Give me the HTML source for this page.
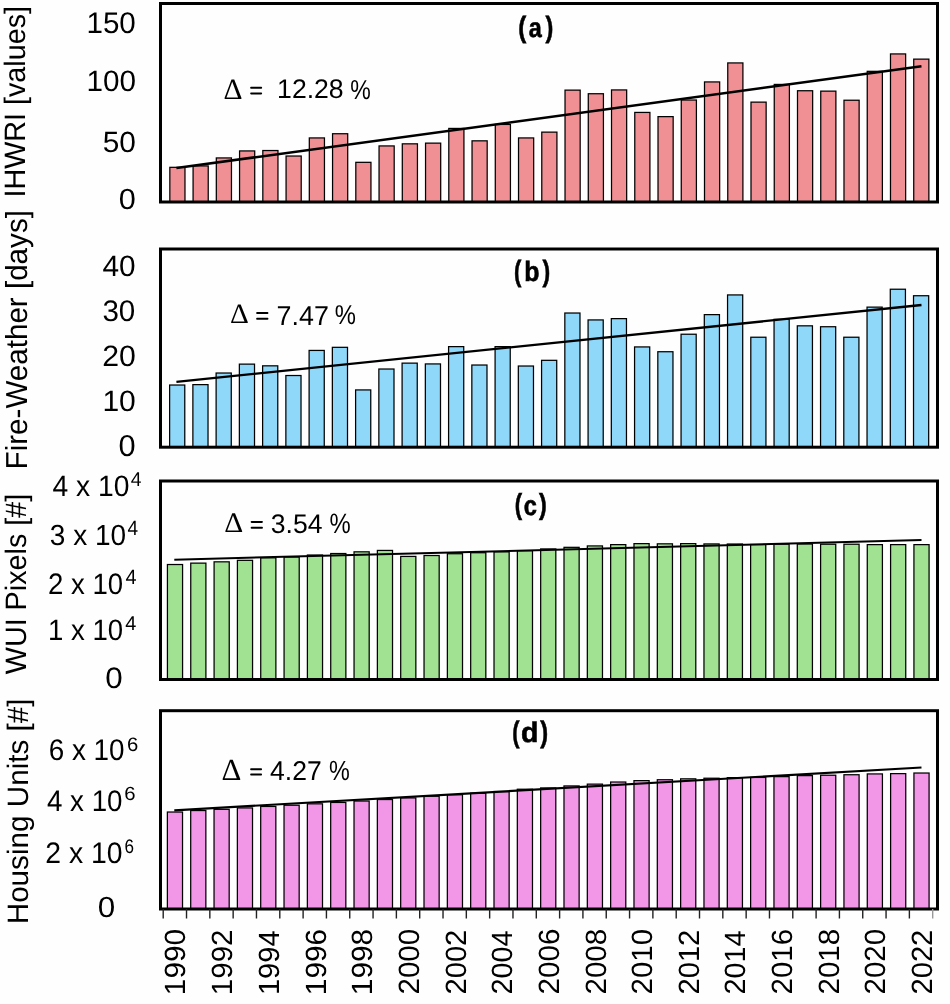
<!DOCTYPE html><html><head><meta charset="utf-8"><style>html,body{margin:0;padding:0;background:#fefefe;overflow:hidden}
svg{display:block}
text{fill:#000;text-rendering:geometricPrecision}
.S{font-family:"Liberation Sans",sans-serif}
.Sb{font-family:"Liberation Sans",sans-serif;font-weight:bold;stroke:#000;stroke-width:0.6}
.R{font-family:"Liberation Serif",serif}
</style></head><body><svg width="950" height="1004" viewBox="0 0 950 1004"><rect x="169.20" y="166.70" width="16.40" height="34.80" fill="#000"/>
<rect x="170.45" y="167.95" width="13.90" height="33.55" fill="#F19094"/>
<rect x="192.45" y="165.30" width="16.40" height="36.20" fill="#000"/>
<rect x="193.70" y="166.55" width="13.90" height="34.95" fill="#F19094"/>
<rect x="215.69" y="157.30" width="16.40" height="44.20" fill="#000"/>
<rect x="216.94" y="158.55" width="13.90" height="42.95" fill="#F19094"/>
<rect x="238.94" y="150.30" width="16.40" height="51.20" fill="#000"/>
<rect x="240.19" y="151.55" width="13.90" height="49.95" fill="#F19094"/>
<rect x="262.19" y="149.90" width="16.40" height="51.60" fill="#000"/>
<rect x="263.44" y="151.15" width="13.90" height="50.35" fill="#F19094"/>
<rect x="285.44" y="155.40" width="16.40" height="46.10" fill="#000"/>
<rect x="286.69" y="156.65" width="13.90" height="44.85" fill="#F19094"/>
<rect x="308.68" y="137.30" width="16.40" height="64.20" fill="#000"/>
<rect x="309.93" y="138.55" width="13.90" height="62.95" fill="#F19094"/>
<rect x="331.93" y="133.10" width="16.40" height="68.40" fill="#000"/>
<rect x="333.18" y="134.35" width="13.90" height="67.15" fill="#F19094"/>
<rect x="355.18" y="161.70" width="16.40" height="39.80" fill="#000"/>
<rect x="356.43" y="162.95" width="13.90" height="38.55" fill="#F19094"/>
<rect x="378.42" y="145.30" width="16.40" height="56.20" fill="#000"/>
<rect x="379.67" y="146.55" width="13.90" height="54.95" fill="#F19094"/>
<rect x="401.67" y="143.20" width="16.40" height="58.30" fill="#000"/>
<rect x="402.92" y="144.45" width="13.90" height="57.05" fill="#F19094"/>
<rect x="424.92" y="142.50" width="16.40" height="59.00" fill="#000"/>
<rect x="426.17" y="143.75" width="13.90" height="57.75" fill="#F19094"/>
<rect x="448.16" y="127.80" width="16.40" height="73.70" fill="#000"/>
<rect x="449.41" y="129.05" width="13.90" height="72.45" fill="#F19094"/>
<rect x="471.41" y="140.20" width="16.40" height="61.30" fill="#000"/>
<rect x="472.66" y="141.45" width="13.90" height="60.05" fill="#F19094"/>
<rect x="494.66" y="123.80" width="16.40" height="77.70" fill="#000"/>
<rect x="495.91" y="125.05" width="13.90" height="76.45" fill="#F19094"/>
<rect x="517.90" y="137.30" width="16.40" height="64.20" fill="#000"/>
<rect x="519.15" y="138.55" width="13.90" height="62.95" fill="#F19094"/>
<rect x="541.15" y="131.50" width="16.40" height="70.00" fill="#000"/>
<rect x="542.40" y="132.75" width="13.90" height="68.75" fill="#F19094"/>
<rect x="564.40" y="89.50" width="16.40" height="112.00" fill="#000"/>
<rect x="565.65" y="90.75" width="13.90" height="110.75" fill="#F19094"/>
<rect x="587.65" y="93.10" width="16.40" height="108.40" fill="#000"/>
<rect x="588.90" y="94.35" width="13.90" height="107.15" fill="#F19094"/>
<rect x="610.89" y="89.30" width="16.40" height="112.20" fill="#000"/>
<rect x="612.14" y="90.55" width="13.90" height="110.95" fill="#F19094"/>
<rect x="634.14" y="111.80" width="16.40" height="89.70" fill="#000"/>
<rect x="635.39" y="113.05" width="13.90" height="88.45" fill="#F19094"/>
<rect x="657.39" y="116.00" width="16.40" height="85.50" fill="#000"/>
<rect x="658.64" y="117.25" width="13.90" height="84.25" fill="#F19094"/>
<rect x="680.63" y="99.40" width="16.40" height="102.10" fill="#000"/>
<rect x="681.88" y="100.65" width="13.90" height="100.85" fill="#F19094"/>
<rect x="703.88" y="81.30" width="16.40" height="120.20" fill="#000"/>
<rect x="705.13" y="82.55" width="13.90" height="118.95" fill="#F19094"/>
<rect x="727.13" y="62.30" width="16.40" height="139.20" fill="#000"/>
<rect x="728.38" y="63.55" width="13.90" height="137.95" fill="#F19094"/>
<rect x="750.37" y="101.50" width="16.40" height="100.00" fill="#000"/>
<rect x="751.62" y="102.75" width="13.90" height="98.75" fill="#F19094"/>
<rect x="773.62" y="83.80" width="16.40" height="117.70" fill="#000"/>
<rect x="774.87" y="85.05" width="13.90" height="116.45" fill="#F19094"/>
<rect x="796.87" y="90.10" width="16.40" height="111.40" fill="#000"/>
<rect x="798.12" y="91.35" width="13.90" height="110.15" fill="#F19094"/>
<rect x="820.12" y="90.50" width="16.40" height="111.00" fill="#000"/>
<rect x="821.37" y="91.75" width="13.90" height="109.75" fill="#F19094"/>
<rect x="843.36" y="99.60" width="16.40" height="101.90" fill="#000"/>
<rect x="844.61" y="100.85" width="13.90" height="100.65" fill="#F19094"/>
<rect x="866.61" y="70.70" width="16.40" height="130.80" fill="#000"/>
<rect x="867.86" y="71.95" width="13.90" height="129.55" fill="#F19094"/>
<rect x="889.86" y="53.30" width="16.40" height="148.20" fill="#000"/>
<rect x="891.11" y="54.55" width="13.90" height="146.95" fill="#F19094"/>
<rect x="913.10" y="58.50" width="16.40" height="143.00" fill="#000"/>
<rect x="914.35" y="59.75" width="13.90" height="141.75" fill="#F19094"/>
<line x1="176.40" y1="168.00" x2="921.50" y2="66.30" stroke="#000" stroke-width="2.50"/>
<rect x="160.50" y="3.50" width="777.00" height="198.50" fill="none" stroke="#000" stroke-width="3"/>
<rect x="169.00" y="384.40" width="16.40" height="62.20" fill="#000"/>
<rect x="170.25" y="385.65" width="13.90" height="60.95" fill="#8FD8FA"/>
<rect x="192.25" y="384.00" width="16.40" height="62.60" fill="#000"/>
<rect x="193.50" y="385.25" width="13.90" height="61.35" fill="#8FD8FA"/>
<rect x="215.49" y="372.40" width="16.40" height="74.20" fill="#000"/>
<rect x="216.74" y="373.65" width="13.90" height="72.95" fill="#8FD8FA"/>
<rect x="238.74" y="363.50" width="16.40" height="83.10" fill="#000"/>
<rect x="239.99" y="364.75" width="13.90" height="81.85" fill="#8FD8FA"/>
<rect x="261.99" y="365.20" width="16.40" height="81.40" fill="#000"/>
<rect x="263.24" y="366.45" width="13.90" height="80.15" fill="#8FD8FA"/>
<rect x="285.24" y="374.90" width="16.40" height="71.70" fill="#000"/>
<rect x="286.49" y="376.15" width="13.90" height="70.45" fill="#8FD8FA"/>
<rect x="308.48" y="349.80" width="16.40" height="96.80" fill="#000"/>
<rect x="309.73" y="351.05" width="13.90" height="95.55" fill="#8FD8FA"/>
<rect x="331.73" y="346.70" width="16.40" height="99.90" fill="#000"/>
<rect x="332.98" y="347.95" width="13.90" height="98.65" fill="#8FD8FA"/>
<rect x="354.98" y="389.30" width="16.40" height="57.30" fill="#000"/>
<rect x="356.23" y="390.55" width="13.90" height="56.05" fill="#8FD8FA"/>
<rect x="378.22" y="368.40" width="16.40" height="78.20" fill="#000"/>
<rect x="379.47" y="369.65" width="13.90" height="76.95" fill="#8FD8FA"/>
<rect x="401.47" y="362.50" width="16.40" height="84.10" fill="#000"/>
<rect x="402.72" y="363.75" width="13.90" height="82.85" fill="#8FD8FA"/>
<rect x="424.72" y="363.30" width="16.40" height="83.30" fill="#000"/>
<rect x="425.97" y="364.55" width="13.90" height="82.05" fill="#8FD8FA"/>
<rect x="447.96" y="346.00" width="16.40" height="100.60" fill="#000"/>
<rect x="449.21" y="347.25" width="13.90" height="99.35" fill="#8FD8FA"/>
<rect x="471.21" y="364.40" width="16.40" height="82.20" fill="#000"/>
<rect x="472.46" y="365.65" width="13.90" height="80.95" fill="#8FD8FA"/>
<rect x="494.46" y="346.00" width="16.40" height="100.60" fill="#000"/>
<rect x="495.71" y="347.25" width="13.90" height="99.35" fill="#8FD8FA"/>
<rect x="517.70" y="365.40" width="16.40" height="81.20" fill="#000"/>
<rect x="518.95" y="366.65" width="13.90" height="79.95" fill="#8FD8FA"/>
<rect x="540.95" y="359.70" width="16.40" height="86.90" fill="#000"/>
<rect x="542.20" y="360.95" width="13.90" height="85.65" fill="#8FD8FA"/>
<rect x="564.20" y="312.40" width="16.40" height="134.20" fill="#000"/>
<rect x="565.45" y="313.65" width="13.90" height="132.95" fill="#8FD8FA"/>
<rect x="587.45" y="319.30" width="16.40" height="127.30" fill="#000"/>
<rect x="588.70" y="320.55" width="13.90" height="126.05" fill="#8FD8FA"/>
<rect x="610.69" y="318.00" width="16.40" height="128.60" fill="#000"/>
<rect x="611.94" y="319.25" width="13.90" height="127.35" fill="#8FD8FA"/>
<rect x="633.94" y="346.30" width="16.40" height="100.30" fill="#000"/>
<rect x="635.19" y="347.55" width="13.90" height="99.05" fill="#8FD8FA"/>
<rect x="657.19" y="351.10" width="16.40" height="95.50" fill="#000"/>
<rect x="658.44" y="352.35" width="13.90" height="94.25" fill="#8FD8FA"/>
<rect x="680.43" y="333.60" width="16.40" height="113.00" fill="#000"/>
<rect x="681.68" y="334.85" width="13.90" height="111.75" fill="#8FD8FA"/>
<rect x="703.68" y="314.00" width="16.40" height="132.60" fill="#000"/>
<rect x="704.93" y="315.25" width="13.90" height="131.35" fill="#8FD8FA"/>
<rect x="726.93" y="294.30" width="16.40" height="152.30" fill="#000"/>
<rect x="728.18" y="295.55" width="13.90" height="151.05" fill="#8FD8FA"/>
<rect x="750.17" y="336.60" width="16.40" height="110.00" fill="#000"/>
<rect x="751.42" y="337.85" width="13.90" height="108.75" fill="#8FD8FA"/>
<rect x="773.42" y="318.70" width="16.40" height="127.90" fill="#000"/>
<rect x="774.67" y="319.95" width="13.90" height="126.65" fill="#8FD8FA"/>
<rect x="796.67" y="325.20" width="16.40" height="121.40" fill="#000"/>
<rect x="797.92" y="326.45" width="13.90" height="120.15" fill="#8FD8FA"/>
<rect x="819.92" y="326.10" width="16.40" height="120.50" fill="#000"/>
<rect x="821.17" y="327.35" width="13.90" height="119.25" fill="#8FD8FA"/>
<rect x="843.16" y="336.60" width="16.40" height="110.00" fill="#000"/>
<rect x="844.41" y="337.85" width="13.90" height="108.75" fill="#8FD8FA"/>
<rect x="866.41" y="306.50" width="16.40" height="140.10" fill="#000"/>
<rect x="867.66" y="307.75" width="13.90" height="138.85" fill="#8FD8FA"/>
<rect x="889.66" y="288.60" width="16.40" height="158.00" fill="#000"/>
<rect x="890.91" y="289.85" width="13.90" height="156.75" fill="#8FD8FA"/>
<rect x="912.90" y="295.10" width="16.40" height="151.50" fill="#000"/>
<rect x="914.15" y="296.35" width="13.90" height="150.25" fill="#8FD8FA"/>
<line x1="176.40" y1="381.80" x2="921.50" y2="305.00" stroke="#000" stroke-width="2.30"/>
<rect x="160.50" y="249.00" width="777.00" height="198.20" fill="none" stroke="#000" stroke-width="3"/>
<rect x="166.80" y="563.90" width="16.40" height="115.30" fill="#000"/>
<rect x="168.05" y="565.15" width="13.90" height="114.05" fill="#A0E292"/>
<rect x="190.13" y="562.50" width="16.40" height="116.70" fill="#000"/>
<rect x="191.38" y="563.75" width="13.90" height="115.45" fill="#A0E292"/>
<rect x="213.46" y="561.20" width="16.40" height="118.00" fill="#000"/>
<rect x="214.71" y="562.45" width="13.90" height="116.75" fill="#A0E292"/>
<rect x="236.78" y="559.70" width="16.40" height="119.50" fill="#000"/>
<rect x="238.03" y="560.95" width="13.90" height="118.25" fill="#A0E292"/>
<rect x="260.11" y="557.20" width="16.40" height="122.00" fill="#000"/>
<rect x="261.36" y="558.45" width="13.90" height="120.75" fill="#A0E292"/>
<rect x="283.44" y="556.40" width="16.40" height="122.80" fill="#000"/>
<rect x="284.69" y="557.65" width="13.90" height="121.55" fill="#A0E292"/>
<rect x="306.77" y="554.40" width="16.40" height="124.80" fill="#000"/>
<rect x="308.02" y="555.65" width="13.90" height="123.55" fill="#A0E292"/>
<rect x="330.10" y="552.90" width="16.40" height="126.30" fill="#000"/>
<rect x="331.35" y="554.15" width="13.90" height="125.05" fill="#A0E292"/>
<rect x="353.42" y="551.20" width="16.40" height="128.00" fill="#000"/>
<rect x="354.67" y="552.45" width="13.90" height="126.75" fill="#A0E292"/>
<rect x="376.75" y="549.80" width="16.40" height="129.40" fill="#000"/>
<rect x="378.00" y="551.05" width="13.90" height="128.15" fill="#A0E292"/>
<rect x="400.08" y="555.80" width="16.40" height="123.40" fill="#000"/>
<rect x="401.33" y="557.05" width="13.90" height="122.15" fill="#A0E292"/>
<rect x="423.41" y="554.90" width="16.40" height="124.30" fill="#000"/>
<rect x="424.66" y="556.15" width="13.90" height="123.05" fill="#A0E292"/>
<rect x="446.74" y="553.10" width="16.40" height="126.10" fill="#000"/>
<rect x="447.99" y="554.35" width="13.90" height="124.85" fill="#A0E292"/>
<rect x="470.06" y="552.10" width="16.40" height="127.10" fill="#000"/>
<rect x="471.31" y="553.35" width="13.90" height="125.85" fill="#A0E292"/>
<rect x="493.39" y="551.20" width="16.40" height="128.00" fill="#000"/>
<rect x="494.64" y="552.45" width="13.90" height="126.75" fill="#A0E292"/>
<rect x="516.72" y="550.00" width="16.40" height="129.20" fill="#000"/>
<rect x="517.97" y="551.25" width="13.90" height="127.95" fill="#A0E292"/>
<rect x="540.05" y="548.30" width="16.40" height="130.90" fill="#000"/>
<rect x="541.30" y="549.55" width="13.90" height="129.65" fill="#A0E292"/>
<rect x="563.38" y="546.70" width="16.40" height="132.50" fill="#000"/>
<rect x="564.63" y="547.95" width="13.90" height="131.25" fill="#A0E292"/>
<rect x="586.70" y="545.30" width="16.40" height="133.90" fill="#000"/>
<rect x="587.95" y="546.55" width="13.90" height="132.65" fill="#A0E292"/>
<rect x="610.03" y="544.00" width="16.40" height="135.20" fill="#000"/>
<rect x="611.28" y="545.25" width="13.90" height="133.95" fill="#A0E292"/>
<rect x="633.36" y="543.00" width="16.40" height="136.20" fill="#000"/>
<rect x="634.61" y="544.25" width="13.90" height="134.95" fill="#A0E292"/>
<rect x="656.69" y="543.20" width="16.40" height="136.00" fill="#000"/>
<rect x="657.94" y="544.45" width="13.90" height="134.75" fill="#A0E292"/>
<rect x="680.02" y="543.00" width="16.40" height="136.20" fill="#000"/>
<rect x="681.27" y="544.25" width="13.90" height="134.95" fill="#A0E292"/>
<rect x="703.34" y="543.30" width="16.40" height="135.90" fill="#000"/>
<rect x="704.59" y="544.55" width="13.90" height="134.65" fill="#A0E292"/>
<rect x="726.67" y="543.40" width="16.40" height="135.80" fill="#000"/>
<rect x="727.92" y="544.65" width="13.90" height="134.55" fill="#A0E292"/>
<rect x="750.00" y="543.90" width="16.40" height="135.30" fill="#000"/>
<rect x="751.25" y="545.15" width="13.90" height="134.05" fill="#A0E292"/>
<rect x="773.33" y="543.50" width="16.40" height="135.70" fill="#000"/>
<rect x="774.58" y="544.75" width="13.90" height="134.45" fill="#A0E292"/>
<rect x="796.66" y="543.40" width="16.40" height="135.80" fill="#000"/>
<rect x="797.91" y="544.65" width="13.90" height="134.55" fill="#A0E292"/>
<rect x="819.98" y="543.60" width="16.40" height="135.60" fill="#000"/>
<rect x="821.23" y="544.85" width="13.90" height="134.35" fill="#A0E292"/>
<rect x="843.31" y="543.60" width="16.40" height="135.60" fill="#000"/>
<rect x="844.56" y="544.85" width="13.90" height="134.35" fill="#A0E292"/>
<rect x="866.64" y="544.00" width="16.40" height="135.20" fill="#000"/>
<rect x="867.89" y="545.25" width="13.90" height="133.95" fill="#A0E292"/>
<rect x="889.97" y="544.00" width="16.40" height="135.20" fill="#000"/>
<rect x="891.22" y="545.25" width="13.90" height="133.95" fill="#A0E292"/>
<rect x="913.30" y="544.00" width="16.40" height="135.20" fill="#000"/>
<rect x="914.55" y="545.25" width="13.90" height="133.95" fill="#A0E292"/>
<line x1="174.30" y1="559.70" x2="921.50" y2="540.10" stroke="#000" stroke-width="2.00"/>
<rect x="160.50" y="481.00" width="777.00" height="198.50" fill="none" stroke="#000" stroke-width="3"/>
<rect x="166.75" y="811.40" width="16.40" height="97.50" fill="#000"/>
<rect x="168.00" y="812.65" width="13.90" height="96.25" fill="#F296E8"/>
<rect x="190.08" y="809.90" width="16.40" height="99.00" fill="#000"/>
<rect x="191.33" y="811.15" width="13.90" height="97.75" fill="#F296E8"/>
<rect x="213.41" y="808.70" width="16.40" height="100.20" fill="#000"/>
<rect x="214.66" y="809.95" width="13.90" height="98.95" fill="#F296E8"/>
<rect x="236.74" y="807.30" width="16.40" height="101.60" fill="#000"/>
<rect x="237.99" y="808.55" width="13.90" height="100.35" fill="#F296E8"/>
<rect x="260.07" y="805.80" width="16.40" height="103.10" fill="#000"/>
<rect x="261.32" y="807.05" width="13.90" height="101.85" fill="#F296E8"/>
<rect x="283.40" y="804.60" width="16.40" height="104.30" fill="#000"/>
<rect x="284.65" y="805.85" width="13.90" height="103.05" fill="#F296E8"/>
<rect x="306.73" y="803.20" width="16.40" height="105.70" fill="#000"/>
<rect x="307.98" y="804.45" width="13.90" height="104.45" fill="#F296E8"/>
<rect x="330.06" y="801.80" width="16.40" height="107.10" fill="#000"/>
<rect x="331.31" y="803.05" width="13.90" height="105.85" fill="#F296E8"/>
<rect x="353.39" y="800.40" width="16.40" height="108.50" fill="#000"/>
<rect x="354.64" y="801.65" width="13.90" height="107.25" fill="#F296E8"/>
<rect x="376.72" y="798.90" width="16.40" height="110.00" fill="#000"/>
<rect x="377.97" y="800.15" width="13.90" height="108.75" fill="#F296E8"/>
<rect x="400.05" y="797.30" width="16.40" height="111.60" fill="#000"/>
<rect x="401.30" y="798.55" width="13.90" height="110.35" fill="#F296E8"/>
<rect x="423.38" y="795.60" width="16.40" height="113.30" fill="#000"/>
<rect x="424.63" y="796.85" width="13.90" height="112.05" fill="#F296E8"/>
<rect x="446.71" y="794.10" width="16.40" height="114.80" fill="#000"/>
<rect x="447.96" y="795.35" width="13.90" height="113.55" fill="#F296E8"/>
<rect x="470.04" y="792.60" width="16.40" height="116.30" fill="#000"/>
<rect x="471.29" y="793.85" width="13.90" height="115.05" fill="#F296E8"/>
<rect x="493.37" y="790.90" width="16.40" height="118.00" fill="#000"/>
<rect x="494.62" y="792.15" width="13.90" height="116.75" fill="#F296E8"/>
<rect x="516.70" y="788.60" width="16.40" height="120.30" fill="#000"/>
<rect x="517.95" y="789.85" width="13.90" height="119.05" fill="#F296E8"/>
<rect x="540.03" y="787.30" width="16.40" height="121.60" fill="#000"/>
<rect x="541.28" y="788.55" width="13.90" height="120.35" fill="#F296E8"/>
<rect x="563.36" y="785.30" width="16.40" height="123.60" fill="#000"/>
<rect x="564.61" y="786.55" width="13.90" height="122.35" fill="#F296E8"/>
<rect x="586.69" y="783.50" width="16.40" height="125.40" fill="#000"/>
<rect x="587.94" y="784.75" width="13.90" height="124.15" fill="#F296E8"/>
<rect x="610.02" y="781.40" width="16.40" height="127.50" fill="#000"/>
<rect x="611.27" y="782.65" width="13.90" height="126.25" fill="#F296E8"/>
<rect x="633.35" y="780.00" width="16.40" height="128.90" fill="#000"/>
<rect x="634.60" y="781.25" width="13.90" height="127.65" fill="#F296E8"/>
<rect x="656.68" y="779.10" width="16.40" height="129.80" fill="#000"/>
<rect x="657.93" y="780.35" width="13.90" height="128.55" fill="#F296E8"/>
<rect x="680.01" y="778.20" width="16.40" height="130.70" fill="#000"/>
<rect x="681.26" y="779.45" width="13.90" height="129.45" fill="#F296E8"/>
<rect x="703.34" y="777.60" width="16.40" height="131.30" fill="#000"/>
<rect x="704.59" y="778.85" width="13.90" height="130.05" fill="#F296E8"/>
<rect x="726.67" y="777.00" width="16.40" height="131.90" fill="#000"/>
<rect x="727.92" y="778.25" width="13.90" height="130.65" fill="#F296E8"/>
<rect x="750.00" y="776.80" width="16.40" height="132.10" fill="#000"/>
<rect x="751.25" y="778.05" width="13.90" height="130.85" fill="#F296E8"/>
<rect x="773.33" y="776.00" width="16.40" height="132.90" fill="#000"/>
<rect x="774.58" y="777.25" width="13.90" height="131.65" fill="#F296E8"/>
<rect x="796.66" y="775.00" width="16.40" height="133.90" fill="#000"/>
<rect x="797.91" y="776.25" width="13.90" height="132.65" fill="#F296E8"/>
<rect x="819.99" y="774.60" width="16.40" height="134.30" fill="#000"/>
<rect x="821.24" y="775.85" width="13.90" height="133.05" fill="#F296E8"/>
<rect x="843.32" y="774.10" width="16.40" height="134.80" fill="#000"/>
<rect x="844.57" y="775.35" width="13.90" height="133.55" fill="#F296E8"/>
<rect x="866.65" y="773.30" width="16.40" height="135.60" fill="#000"/>
<rect x="867.90" y="774.55" width="13.90" height="134.35" fill="#F296E8"/>
<rect x="889.98" y="773.00" width="16.40" height="135.90" fill="#000"/>
<rect x="891.23" y="774.25" width="13.90" height="134.65" fill="#F296E8"/>
<rect x="913.31" y="772.40" width="16.40" height="136.50" fill="#000"/>
<rect x="914.56" y="773.65" width="13.90" height="135.25" fill="#F296E8"/>
<line x1="174.30" y1="810.30" x2="921.50" y2="767.50" stroke="#000" stroke-width="2.20"/>
<rect x="160.50" y="710.70" width="777.00" height="198.30" fill="none" stroke="#000" stroke-width="3"/>
<rect x="250.20" y="86.70" width="11.90" height="2" rx="0.8" fill="#000"/>
<rect x="250.20" y="92.40" width="11.90" height="2" rx="0.8" fill="#000"/>
<rect x="256.20" y="312.10" width="12.20" height="2" rx="0.8" fill="#000"/>
<rect x="256.20" y="317.70" width="12.20" height="2" rx="0.8" fill="#000"/>
<rect x="250.70" y="520.90" width="12.20" height="2" rx="0.8" fill="#000"/>
<rect x="250.70" y="526.70" width="12.20" height="2" rx="0.8" fill="#000"/>
<rect x="250.20" y="768.20" width="11.80" height="2" rx="0.8" fill="#000"/>
<rect x="250.20" y="773.60" width="11.80" height="2" rx="0.8" fill="#000"/>
<rect x="162.50" y="909" width="1.4" height="9.5" fill="#222"/>
<rect x="185.82" y="909" width="1.4" height="9.5" fill="#222"/>
<rect x="209.14" y="909" width="1.4" height="9.5" fill="#222"/>
<rect x="232.45" y="909" width="1.4" height="9.5" fill="#222"/>
<rect x="255.77" y="909" width="1.4" height="9.5" fill="#222"/>
<rect x="279.09" y="909" width="1.4" height="9.5" fill="#222"/>
<rect x="302.41" y="909" width="1.4" height="9.5" fill="#222"/>
<rect x="325.73" y="909" width="1.4" height="9.5" fill="#222"/>
<rect x="349.04" y="909" width="1.4" height="9.5" fill="#222"/>
<rect x="372.36" y="909" width="1.4" height="9.5" fill="#222"/>
<rect x="395.68" y="909" width="1.4" height="9.5" fill="#222"/>
<rect x="419.00" y="909" width="1.4" height="9.5" fill="#222"/>
<rect x="442.32" y="909" width="1.4" height="9.5" fill="#222"/>
<rect x="465.63" y="909" width="1.4" height="9.5" fill="#222"/>
<rect x="488.95" y="909" width="1.4" height="9.5" fill="#222"/>
<rect x="512.27" y="909" width="1.4" height="9.5" fill="#222"/>
<rect x="535.59" y="909" width="1.4" height="9.5" fill="#222"/>
<rect x="558.91" y="909" width="1.4" height="9.5" fill="#222"/>
<rect x="582.22" y="909" width="1.4" height="9.5" fill="#222"/>
<rect x="605.54" y="909" width="1.4" height="9.5" fill="#222"/>
<rect x="628.86" y="909" width="1.4" height="9.5" fill="#222"/>
<rect x="652.18" y="909" width="1.4" height="9.5" fill="#222"/>
<rect x="675.50" y="909" width="1.4" height="9.5" fill="#222"/>
<rect x="698.81" y="909" width="1.4" height="9.5" fill="#222"/>
<rect x="722.13" y="909" width="1.4" height="9.5" fill="#222"/>
<rect x="745.45" y="909" width="1.4" height="9.5" fill="#222"/>
<rect x="768.77" y="909" width="1.4" height="9.5" fill="#222"/>
<rect x="792.09" y="909" width="1.4" height="9.5" fill="#222"/>
<rect x="815.40" y="909" width="1.4" height="9.5" fill="#222"/>
<rect x="838.72" y="909" width="1.4" height="9.5" fill="#222"/>
<rect x="862.04" y="909" width="1.4" height="9.5" fill="#222"/>
<rect x="885.36" y="909" width="1.4" height="9.5" fill="#222"/>
<rect x="908.68" y="909" width="1.4" height="9.5" fill="#222"/>
<rect x="931.99" y="909" width="1.4" height="9.5" fill="#999"/>
<defs><filter id="gs" x="0" y="0" width="950" height="1004" filterUnits="userSpaceOnUse"><feColorMatrix type="saturate" values="0"/></filter></defs><g filter="url(#gs)"><text class="S" transform="translate(24.887,197.587) rotate(-90) scale(0.9743,1)" font-size="29.513">IHWRI [values]</text>
<text class="S" transform="translate(27.070,469.437) rotate(-90) scale(0.9744,1)" font-size="30.380">Fire-Weather [days]</text>
<text class="S" transform="translate(26.379,674.234) rotate(-90) scale(0.9742,1)" font-size="29.513">WUI Pixels [#]</text>
<text class="S" transform="translate(27.888,924.284) rotate(-90) scale(1.0051,1)" font-size="29.513">Housing Units [#]</text>
<text class="S" transform="translate(86.467,33.097) scale(0.9899,1)" font-size="29.886">150</text>
<text class="S" transform="translate(86.387,91.400) scale(1.0049,1)" font-size="29.520">100</text>
<text class="S" transform="translate(102.717,151.720) scale(1.0189,1)" font-size="29.304">50</text>
<text class="S" transform="translate(118.856,208.558) scale(1.0549,1)" font-size="29.042">0</text>
<text class="S" transform="translate(102.423,276.353) scale(1.0107,1)" font-size="29.488">40</text>
<text class="S" transform="translate(102.402,320.910) scale(0.9937,1)" font-size="29.788">30</text>
<text class="S" transform="translate(102.162,365.652) scale(1.0267,1)" font-size="29.460">20</text>
<text class="S" transform="translate(102.397,411.007) scale(1.0226,1)" font-size="29.369">10</text>
<text class="S" transform="translate(118.540,455.919) scale(1.0219,1)" font-size="30.147">0</text>
<text class="S" transform="translate(52.545,495.655) scale(0.9578,1)" font-size="29.490">4 x 10</text>
<text class="S" transform="translate(130.629,485.557) scale(0.9570,1)" font-size="20.188">4</text>
<text class="S" transform="translate(49.819,544.531) scale(0.9663,1)" font-size="29.030">3 x 10</text>
<text class="S" transform="translate(127.398,535.246) scale(0.9134,1)" font-size="20.854">4</text>
<text class="S" transform="translate(48.068,593.769) scale(0.9331,1)" font-size="29.576">2 x 10</text>
<text class="S" transform="translate(125.439,583.901) scale(0.9622,1)" font-size="20.611">4</text>
<text class="S" transform="translate(48.098,639.745) scale(0.9349,1)" font-size="29.494">1 x 10</text>
<text class="S" transform="translate(125.270,629.949) scale(0.9992,1)" font-size="19.903">4</text>
<text class="S" transform="translate(105.148,688.066) scale(1.0556,1)" font-size="29.710">0</text>
<text class="S" transform="translate(48.686,760.472) scale(0.9303,1)" font-size="29.916">6 x 10</text>
<text class="S" transform="translate(126.948,750.736) scale(1.0414,1)" font-size="19.510">6</text>
<text class="S" transform="translate(46.965,810.568) scale(0.9328,1)" font-size="29.724">4 x 10</text>
<text class="S" transform="translate(124.134,800.325) scale(1.0715,1)" font-size="19.027">6</text>
<text class="S" transform="translate(45.337,862.718) scale(0.9556,1)" font-size="29.678">2 x 10</text>
<text class="S" transform="translate(124.590,853.140) scale(0.8759,1)" font-size="19.544">6</text>
<text class="S" transform="translate(97.822,916.897) scale(1.0815,1)" font-size="29.069">0</text>
<text class="Sb" transform="translate(518.315,37.395) scale(0.8207,1)" font-size="29.318">(</text>
<text class="Sb" transform="translate(528.727,36.709) scale(0.8500,1)" font-size="27.544">a</text>
<text class="Sb" transform="translate(545.550,37.392) scale(0.7971,1)" font-size="29.334">)</text>
<text class="Sb" transform="translate(513.960,281.488) scale(0.7522,1)" font-size="29.348">(</text>
<text class="Sb" transform="translate(524.167,281.075) scale(0.8939,1)" font-size="27.890">b</text>
<text class="Sb" transform="translate(542.388,281.481) scale(0.7840,1)" font-size="29.376">)</text>
<text class="Sb" transform="translate(514.711,514.430) scale(0.7586,1)" font-size="29.036">(</text>
<text class="Sb" transform="translate(523.689,514.970) scale(0.8574,1)" font-size="27.563">c</text>
<text class="Sb" transform="translate(539.094,514.432) scale(0.8004,1)" font-size="29.028">)</text>
<text class="Sb" transform="translate(512.168,741.562) scale(0.7365,1)" font-size="29.663">(</text>
<text class="Sb" transform="translate(520.953,741.841) scale(1.0053,1)" font-size="28.359">d</text>
<text class="Sb" transform="translate(540.172,741.559) scale(0.7952,1)" font-size="29.676">)</text>
<text class="R" transform="translate(223.533,98.555) scale(0.9978,1)" font-size="29.603">Δ</text>
<text class="S" transform="translate(277.079,98.289) scale(0.9917,1)" font-size="26.838">12.28</text>
<text class="S" transform="translate(350.290,98.908) scale(0.8441,1)" font-size="27.384">%</text>
<text class="R" transform="translate(229.978,323.410) scale(1.0402,1)" font-size="28.235">Δ</text>
<text class="S" transform="translate(276.608,324.590) scale(0.9834,1)" font-size="27.319">7.47</text>
<text class="S" transform="translate(334.696,324.156) scale(0.8758,1)" font-size="27.218">%</text>
<text class="R" transform="translate(224.327,532.414) scale(1.0409,1)" font-size="28.360">Δ</text>
<text class="S" transform="translate(270.817,532.969) scale(0.9852,1)" font-size="26.980">3.54</text>
<text class="S" transform="translate(329.401,533.233) scale(0.8524,1)" font-size="27.989">%</text>
<text class="R" transform="translate(221.510,779.616) scale(1.0042,1)" font-size="30.782">Δ</text>
<text class="S" transform="translate(270.061,779.620) scale(0.9805,1)" font-size="27.107">4.27</text>
<text class="S" transform="translate(328.992,779.705) scale(0.8458,1)" font-size="27.663">%</text>
<text class="S" transform="translate(185.244,995.159) rotate(-90) scale(1.0186,1)" font-size="29.264">1990</text>
<text class="S" transform="translate(232.177,995.136) rotate(-90) scale(1.0081,1)" font-size="29.236">1992</text>
<text class="S" transform="translate(279.020,995.124) rotate(-90) scale(0.9951,1)" font-size="29.236">1994</text>
<text class="S" transform="translate(326.018,995.160) rotate(-90) scale(1.0202,1)" font-size="29.236">1996</text>
<text class="S" transform="translate(371.921,995.161) rotate(-90) scale(1.0204,1)" font-size="29.230">1998</text>
<text class="S" transform="translate(418.840,994.519) rotate(-90) scale(1.0075,1)" font-size="29.295">2000</text>
<text class="S" transform="translate(465.845,994.499) rotate(-90) scale(0.9943,1)" font-size="29.301">2002</text>
<text class="S" transform="translate(511.747,994.482) rotate(-90) scale(0.9835,1)" font-size="29.264">2004</text>
<text class="S" transform="translate(558.559,994.525) rotate(-90) scale(1.0118,1)" font-size="29.289">2006</text>
<text class="S" transform="translate(605.568,994.520) rotate(-90) scale(1.0089,1)" font-size="29.262">2008</text>
<text class="S" transform="translate(652.095,994.519) rotate(-90) scale(1.0072,1)" font-size="29.304">2010</text>
<text class="S" transform="translate(698.601,994.500) rotate(-90) scale(0.9943,1)" font-size="29.302">2012</text>
<text class="S" transform="translate(745.382,994.482) rotate(-90) scale(0.9826,1)" font-size="29.292">2014</text>
<text class="S" transform="translate(792.186,994.519) rotate(-90) scale(1.0097,1)" font-size="29.236">2016</text>
<text class="S" transform="translate(839.211,994.520) rotate(-90) scale(1.0085,1)" font-size="29.280">2018</text>
<text class="S" transform="translate(885.207,994.519) rotate(-90) scale(1.0086,1)" font-size="29.263">2020</text>
<text class="S" transform="translate(932.076,994.500) rotate(-90) scale(0.9943,1)" font-size="29.301">2022</text></g></svg></body></html>
